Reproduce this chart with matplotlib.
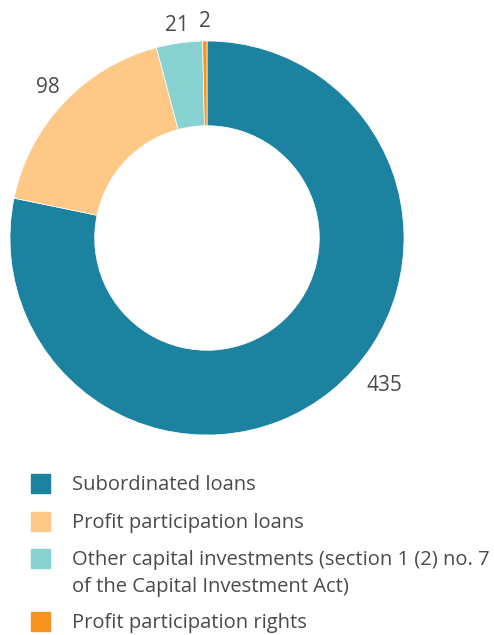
import matplotlib
matplotlib.use("Agg")
import matplotlib.pyplot as plt
from matplotlib.patches import Rectangle
import numpy as np

categories = ["Subordinated loans", "Profit participation loans",
              "Other capital investments (section 1 (2) no. 7\nof the Capital Investment Act)",
              "Profit participation rights"]
values = [435, 98, 21, 2]
colors = ["#1B82A0", "#FEC886", "#88D2D2", "#F7941D"]

plt.rcParams['font.family'] = ['Open Sans', 'DejaVu Sans']
text_color = "#4a4a4a"

W, H = 494, 635
fig = plt.figure(figsize=(W/100, H/100), dpi=100)

cx, cy, R = 207, 238, 197
half = 232
ax = fig.add_axes([(cx-half)/W, 1-(cy+half)/H, 2*half/W, 2*half/H])
wedges, _ = ax.pie(values, colors=colors, startangle=90, counterclock=False,
                   radius=1.0, wedgeprops=dict(width=0.43, edgecolor="white", linewidth=0.5))
h = half / R
ax.set_xlim(-h, h)
ax.set_ylim(-h, h)
ax.set_aspect("equal")
ax.axis("off")

# value labels
offsets = [11, 0, 0, 0]
dists = [1.17, 1.11, 1.09, 1.10]
for w, v, off, d in zip(wedges, values, offsets, dists):
    ang = np.deg2rad((w.theta1 + w.theta2) / 2 + off)
    ax.text(d*np.cos(ang), d*np.sin(ang), str(v), ha="center", va="center",
            fontsize=15, color=text_color)

# legend
rows = [(483, [485]), (521.5, [523]), (558.5, [560, 587]), (621.5, [623])]
for (sy, tys), lab, col in zip(rows, categories, colors):
    fig.patches.append(Rectangle(((31)/W, 1-(sy+9.5)/H), 19/W, 19/H,
                                 transform=fig.transFigure, color=col, figure=fig))
    lines = lab.split("\n")
    for ty, ln in zip(tys, lines):
        fig.text(72/W, 1-ty/H, ln, ha="left", va="center", fontsize=14.5, color=text_color)

fig.savefig("out.png", dpi=100)
